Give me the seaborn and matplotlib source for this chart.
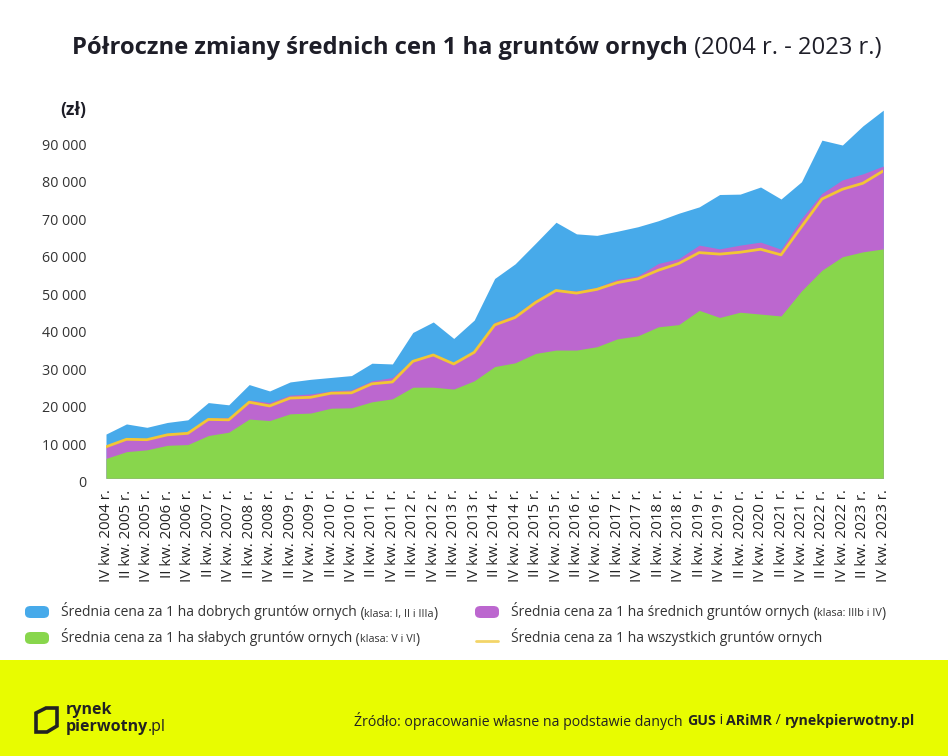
import numpy as np
import pandas as pd
import matplotlib
matplotlib.use("Agg")
import matplotlib.pyplot as plt
import matplotlib.transforms as mtransforms
import seaborn as sns
from matplotlib.patches import FancyBboxPatch, Rectangle, Polygon
from matplotlib.lines import Line2D

# ---------------- data ----------------
years = [2004] + [y for y in range(2005, 2024) for _ in (0, 1)]
quarters = ["IV"] + ["II", "IV"] * 19
labels = [f"{q} kw. {y} r." for q, y in zip(quarters, years)]

good = [11800, 14500, 13600, 14900, 15600, 20200, 19600, 25000, 23300, 25700,
        26400, 26900, 27400, 30700, 30500, 38900, 41700, 37300, 42200, 53300,
        57200, 62700, 68300, 65200, 64800, 65900, 67100, 68700, 70700, 72400,
        75700, 75800, 77700, 74500, 79100, 90200, 88900, 94000, 98200]
medium = [8700, 10700, 10600, 12000, 12400, 16100, 16200, 20900, 20200, 22200,
          22500, 23300, 23600, 26000, 26900, 31600, 33100, 30700, 33800, 41600,
          43600, 47600, 50400, 50000, 50900, 53100, 54000, 57300, 58600, 62200,
          61200, 62200, 63000, 61100, 69300, 76000, 79600, 81200, 83300]
weak = [5300, 7100, 7600, 8800, 9000, 11400, 12300, 15800, 15400, 17200,
        17400, 18700, 18800, 20400, 21200, 24300, 24300, 23800, 26000, 29800,
        30800, 33300, 34200, 34200, 35100, 37200, 38000, 40400, 41000, 44800,
        42900, 44300, 43800, 43300, 50000, 55500, 59100, 60400, 61200]
allsoil = [8400, 10400, 10300, 11600, 12000, 15700, 15600, 20300, 19300, 21400,
           21600, 22700, 22800, 25200, 25700, 31200, 32900, 30500, 33600, 40900,
           42900, 46900, 50100, 49400, 50400, 52200, 53200, 55500, 57300, 60200,
           59800, 60300, 61100, 59600, 67100, 74500, 77100, 78700, 82000]

yticks = list(range(0, 100000, 10000))
ytick_labels = ["0"] + [f"{v // 1000} 000" for v in yticks[1:]]

leg_main = ["Średnia cena za 1 ha dobrych gruntów ornych",
            "Średnia cena za 1 ha średnich gruntów ornych",
            "Średnia cena za 1 ha słabych gruntów ornych",
            "Średnia cena za 1 ha wszystkich gruntów ornych"]
leg_small = ["klasa: I, II i IIIa", "klasa: IIIb i IV", "klasa: V i VI", ""]

df = pd.DataFrame({"idx": np.arange(len(labels)), "label": labels, "good": good,
                   "medium": medium, "weak": weak, "all": allsoil})

# ---------------- style ----------------
BLUE = "#47AAEA"
PURPLE = "#BC67CF"
GREEN = "#88D64C"
YELLOW = "#F2C634"
DARK = "#1E1E28"
BAND = "#E8FC00"

sns.set_theme(style="white")
FONT = ["Open Sans", "DejaVu Sans"]
plt.rcParams["font.family"] = FONT

W, H = 948, 756
fig = plt.figure(figsize=(W / 100, H / 100), dpi=100)

def fx(px):
    return px / W

def fy(py):
    return 1 - py / H

ax_left, ax_right = 106, 883.3
ax_bottom, ax_top = 478.3, 103.4
ax = fig.add_axes([fx(ax_left), fy(ax_bottom), fx(ax_right - ax_left), (ax_bottom - ax_top) / H])

ax.fill_between(df["idx"], 0, df["good"], color=BLUE, lw=0)
ax.fill_between(df["idx"], 0, df["medium"], color=PURPLE, lw=0)
ax.fill_between(df["idx"], 0, df["weak"], color=GREEN, lw=0)
sns.lineplot(data=df, x="idx", y="all", ax=ax, color=YELLOW, lw=2, legend=False)

ax.set_xlim(0, len(labels) - 1)
ax.set_ylim(0, 100000)
ax.set_yticks(yticks)
ax.set_yticklabels(ytick_labels, fontsize=10.3, color="#333333")
ax.set_xticks(df["idx"])
ax.set_xticklabels(labels, rotation=90, fontsize=10.8, color="#222222")
ax.tick_params(axis="y", length=0, pad=14)
ax.tick_params(axis="x", length=0, pad=8)
ax.set_xlabel("")
ax.set_ylabel("")
for s in ax.spines.values():
    s.set_visible(False)
ax.grid(False)
shift = mtransforms.ScaledTranslation(0, -3.4 / 100, fig.dpi_scale_trans)
for lab in ax.get_yticklabels():
    lab.set_transform(lab.get_transform() + shift)

fig.text(fx(60), fy(110), "(zł)", fontsize=12.5, fontweight="bold", color=DARK,
         ha="left", va="center")

# ---------------- title ----------------
renderer = fig.canvas.get_renderer()
t1 = fig.text(0, fy(48), "Półroczne zmiany średnich cen 1 ha gruntów ornych",
              fontsize=17.1, fontweight="bold", color=DARK, ha="left", va="center")
t2 = fig.text(0, fy(48), " (2004 r. - 2023 r.)", fontsize=17.1, color=DARK,
              ha="left", va="center")
w1 = t1.get_window_extent(renderer).width
w2 = t2.get_window_extent(renderer).width
start = 72
t1.set_x(fx(start))
t2.set_x(fx(start + w1))

# ---------------- legend ----------------
leg_pos = [(25, 612), (475, 612), (25, 638), (475, 638)]
leg_colors = [BLUE, PURPLE, GREEN, YELLOW]
for i, ((lx, ly), c) in enumerate(zip(leg_pos, leg_colors)):
    if i < 3:
        p = FancyBboxPatch((fx(lx), fy(ly + 6)), fx(24), 12 / H,
                           boxstyle="round,pad=0,rounding_size=0.006",
                           transform=fig.transFigure, facecolor=c, edgecolor="none")
        fig.patches.append(p)
    else:
        fig.lines.append(Line2D([fx(lx + 1), fx(lx + 23)], [fy(ly + 3), fy(ly + 3)],
                                transform=fig.transFigure, color="#F3D568", lw=2))
    bl = fy(ly + 4.5)
    ta = fig.text(fx(lx + 36), bl, leg_main[i], fontsize=10, color="#333333",
                  ha="left", va="baseline")
    if leg_small[i]:
        x = lx + 36 + ta.get_window_extent(renderer).width
        for s, fs in [(" (", 10), (leg_small[i], 7.8), (")", 10)]:
            tt = fig.text(fx(x), bl, s, fontsize=fs, color="#333333", ha="left",
                          va="baseline")
            x += tt.get_window_extent(renderer).width

# ---------------- footer band ----------------
fig.patches.append(Rectangle((0, 0), 1, fy(660), transform=fig.transFigure,
                             facecolor=BAND, edgecolor="none"))
# logo
icon = Polygon([[fx(36), fy(713)], [fx(46), fy(708)], [fx(57), fy(708)], [fx(57), fy(726)],
                [fx(47), fy(732)], [fx(36), fy(732)]], closed=True, transform=fig.transFigure,
               facecolor="none", edgecolor="#222222", lw=2.6)
fig.patches.append(icon)
fig.text(fx(66), fy(710), "rynek", fontsize=11.5, fontweight="bold", color="#222222",
         ha="left", va="center")
tl = fig.text(fx(66), fy(727), "pierwotny", fontsize=11.5, fontweight="bold", color="#222222",
              ha="left", va="center")
wl = tl.get_window_extent(renderer).width
fig.text(fx(66 + wl), fy(727), ".pl", fontsize=11.5, color="#222222", ha="left", va="center")

# source text, right aligned at x=915
parts = [("Źródło: opracowanie własne na podstawie danych ", "normal"), ("GUS", "bold"),
         (" i ", "normal"), ("ARiMR", "bold"), (" / ", "normal"), ("rynekpierwotny.pl", "bold")]
objs = []
total = 0
for s, wgt in parts:
    t = fig.text(0, fy(721), s, fontsize=10.2, fontweight=wgt, color="#222222",
                 ha="left", va="center")
    w = t.get_window_extent(renderer).width
    objs.append((t, w))
    total += w
x = 915 - total
for t, w in objs:
    t.set_x(fx(x))
    x += w

fig.savefig("out.png", dpi=100)
